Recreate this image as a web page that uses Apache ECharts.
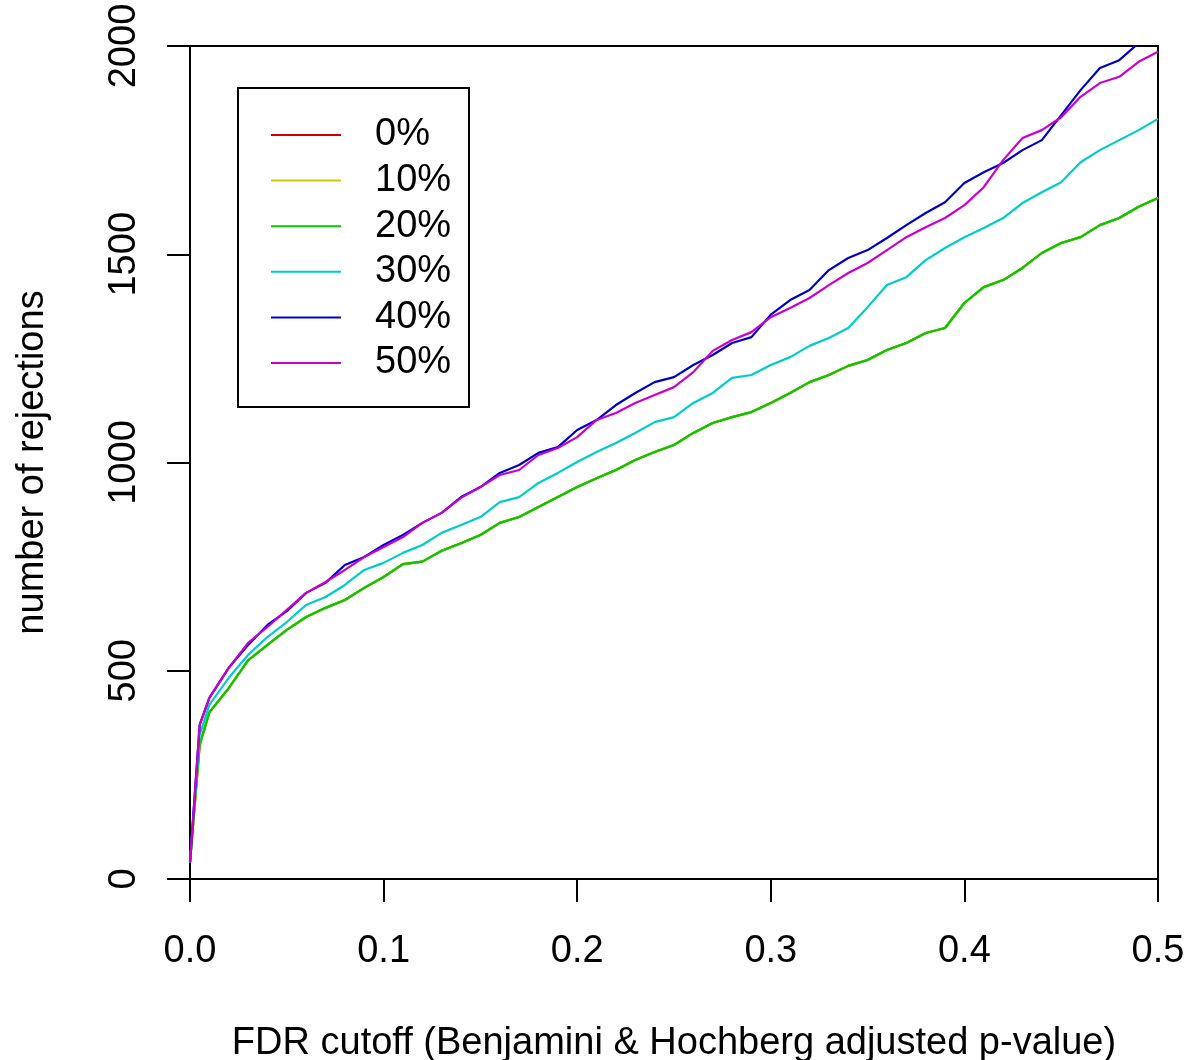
<!DOCTYPE html>
<html>
<head>
<meta charset="utf-8">
<script src="https://cdn.jsdelivr.net/npm/echarts@6/dist/echarts.min.js"></script>
<style>
html,body{margin:0;padding:0;background:#fff;}
#chart{width:1188px;height:1060px;}
</style>
</head>
<body>
<div id="chart"></div>
<script>
// FDR cutoffs
const fdrCutoffs = [0, 0.005, 0.01, 0.02, 0.03, 0.04, 0.05, 0.06, 0.07, 0.08, 0.09, 0.10,
  0.11, 0.12, 0.13, 0.14, 0.15, 0.16, 0.17, 0.18, 0.19, 0.20,
  0.21, 0.22, 0.23, 0.24, 0.25, 0.26, 0.27, 0.28, 0.29, 0.30,
  0.31, 0.32, 0.33, 0.34, 0.35, 0.36, 0.37, 0.38, 0.39, 0.40,
  0.41, 0.42, 0.43, 0.44, 0.45, 0.46, 0.47, 0.48, 0.49, 0.50];

const seriesNames = ['0%', '10%', '20%', '30%', '40%', '50%'];
const seriesColors = ['#CC0000', '#CCCC00', '#00CC00', '#00CCCC', '#0000CC', '#CC00CC'];

const rej0 = [40, 322, 400, 458, 525, 562, 598, 629, 651, 670, 699, 725,
  756, 762, 788, 806, 826, 855, 869, 893, 917, 941,
  962, 982, 1006, 1025, 1042, 1071, 1095, 1109, 1121, 1143,
  1167, 1193, 1210, 1232, 1246, 1270, 1287, 1311, 1323, 1383,
  1421, 1438, 1467, 1503, 1527, 1541, 1570, 1587, 1614, 1635];
const rej10 = [40, 322, 400, 458, 525, 562, 598, 629, 651, 670, 699, 725,
  756, 762, 788, 806, 826, 855, 869, 893, 917, 941,
  962, 982, 1006, 1025, 1042, 1071, 1095, 1109, 1121, 1143,
  1167, 1193, 1210, 1232, 1246, 1270, 1287, 1311, 1323, 1383,
  1421, 1438, 1467, 1503, 1527, 1541, 1570, 1587, 1614, 1635];
const rej20 = [40, 322, 400, 458, 525, 562, 598, 629, 651, 670, 699, 725,
  756, 762, 788, 806, 826, 855, 869, 893, 917, 941,
  962, 982, 1006, 1025, 1042, 1071, 1095, 1109, 1121, 1143,
  1167, 1193, 1210, 1232, 1246, 1270, 1287, 1311, 1323, 1383,
  1421, 1438, 1467, 1503, 1527, 1541, 1570, 1587, 1614, 1635];
const rej30 = [40, 346, 418, 483, 538, 581, 617, 658, 677, 706, 742, 759,
  783, 802, 831, 850, 869, 905, 917, 951, 975, 1001,
  1025, 1047, 1071, 1097, 1109, 1143, 1167, 1203, 1210, 1234,
  1253, 1280, 1299, 1323, 1373, 1426, 1445, 1486, 1515, 1541,
  1563, 1587, 1623, 1649, 1673, 1721, 1750, 1774, 1798, 1825];
const rej40 = [40, 370, 435, 507, 562, 610, 643, 687, 711, 754, 773, 802,
  826, 855, 879, 917, 941, 975, 994, 1023, 1037, 1078,
  1102, 1138, 1167, 1193, 1205, 1234, 1258, 1287, 1301, 1355,
  1390, 1414, 1462, 1491, 1510, 1539, 1570, 1599, 1625, 1671,
  1697, 1719, 1750, 1774, 1834, 1894, 1947, 1966, 2007, 2045];
const rej50 = [40, 370, 435, 507, 567, 605, 646, 687, 713, 742, 773, 797,
  821, 855, 879, 915, 941, 970, 982, 1018, 1035, 1061,
  1102, 1119, 1143, 1162, 1181, 1217, 1268, 1294, 1313, 1349,
  1371, 1395, 1426, 1455, 1479, 1510, 1541, 1565, 1587, 1618,
  1661, 1726, 1779, 1798, 1829, 1878, 1911, 1926, 1962, 1986];

const allRej = [rej0, rej10, rej20, rej30, rej40, rej50];

const FONT = 'Liberation Sans, Arial, Helvetica, sans-serif';
const FS = 38;

const chart = echarts.init(document.getElementById('chart'), null, {renderer: 'canvas'});

const series = seriesNames.map((name, i) => ({
  name: name,
  type: 'line',
  showSymbol: false,
  symbol: 'none',
  clip: true,
  lineStyle: {color: seriesColors[i], width: 2.2},
  itemStyle: {color: seriesColors[i]},
  data: fdrCutoffs.map((x, k) => [x, allRej[i][k]])
}));

chart.setOption({
  animation: false,
  backgroundColor: '#fff',
  textStyle: {fontFamily: FONT},
  grid: {left: 190, top: 46, width: 968, height: 833, containLabel: false, outerBoundsMode: 'none',
    show: true, borderColor: '#000', borderWidth: 2, backgroundColor: 'transparent'},
  legend: {
    orient: 'vertical',
    left: 271,
    top: 116,
    icon: 'rect',
    itemWidth: 70,
    itemHeight: 2,
    itemGap: 7.6,
    padding: 0,
    data: seriesNames,
    textStyle: {fontFamily: FONT, fontSize: FS, color: '#000', lineHeight: 38, padding: [0, 0, 0, 29]},
    selectedMode: false
  },
  graphic: [{
    type: 'rect',
    shape: {x: 238, y: 88, width: 231, height: 319},
    style: {fill: 'transparent', stroke: '#000', lineWidth: 2},
    z: 100
  }],
  xAxis: {
    type: 'value',
    min: 0, max: 0.5, interval: 0.1,
    name: 'FDR cutoff (Benjamini & Hochberg adjusted p-value)',
    nameLocation: 'middle',
    nameGap: 146,
    nameTextStyle: {fontFamily: FONT, fontSize: FS, color: '#000'},
    axisLine: {show: true, onZero: false, lineStyle: {color: '#000', width: 2}},
    axisTick: {show: true, length: 23, lineStyle: {color: '#000', width: 2}},
    axisLabel: {fontFamily: FONT, fontSize: FS, color: '#000', margin: 54, formatter: v => v.toFixed(1)},
    splitLine: {show: false}
  },
  yAxis: {
    type: 'value',
    min: 0, max: 2000, interval: 500,
    name: 'number of rejections',
    nameLocation: 'middle',
    nameRotate: 90,
    nameGap: 138,
    nameTextStyle: {fontFamily: FONT, fontSize: FS, color: '#000'},
    axisLine: {show: true, onZero: false, lineStyle: {color: '#000', width: 2}},
    axisTick: {show: true, length: 23, lineStyle: {color: '#000', width: 2}},
    axisLabel: {fontFamily: FONT, fontSize: FS, color: '#000', margin: 46, rotate: 90, formatter: v => String(v)},
    splitLine: {show: false}
  },
  series: series
});
</script>
</body>
</html>
